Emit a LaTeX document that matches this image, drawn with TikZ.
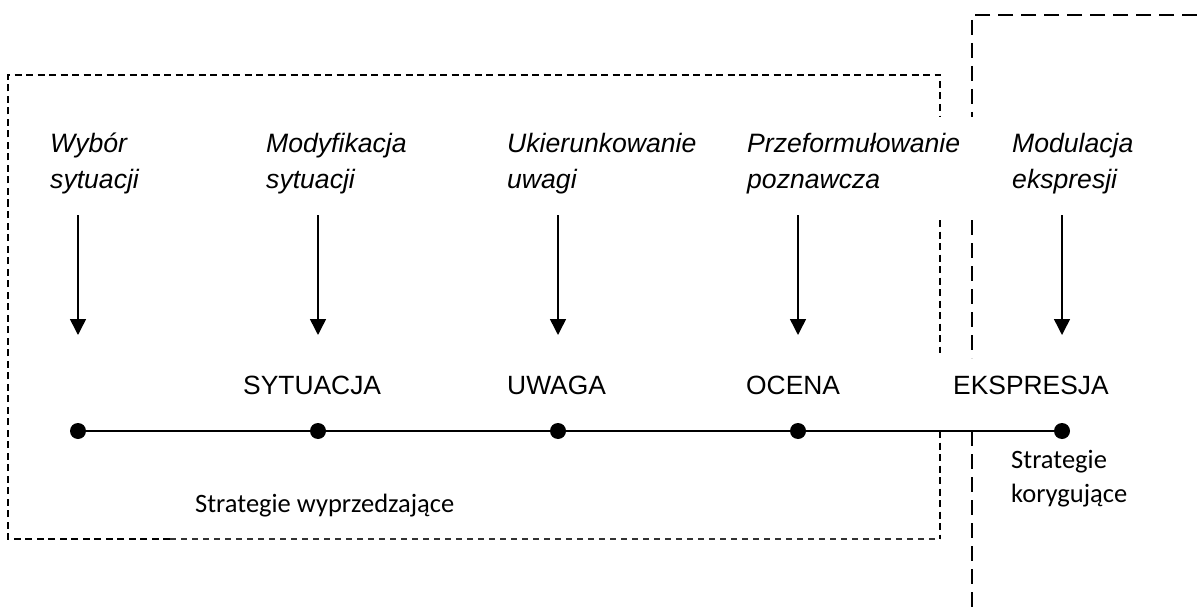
\documentclass[tikz,border=0pt]{standalone}
\usepackage{fontspec}
\setmainfont{Liberation Sans}
\newfontfamily\calibri{Carlito}
\usetikzlibrary{arrows.meta}
\begin{document}
\begin{tikzpicture}[x=1pt,y=-1pt,
  lbl/.style={inner sep=0pt,anchor=base west,font=\fontsize{26.6}{30}\selectfont\itshape},
  cat/.style={inner sep=0pt,anchor=base west,font=\fontsize{26.4}{30}\selectfont},
  strat/.style={inner sep=0pt,anchor=base west,font=\calibri\fontsize{26.5}{30}\selectfont},
  dotnode/.style={circle,fill=black,inner sep=0pt,minimum size=16pt},
  arr/.style={line width=1.5pt,-{Triangle[width=16pt,length=16pt]}},
  leftbox/.style={line width=1.4pt,dash pattern=on 7pt off 4.5pt},
  leftboxthin/.style={line width=1.1pt,dash pattern=on 6pt off 5pt,black!80},
  rightbox/.style={line width=1.4pt,dash pattern=on 15pt off 8pt}]
\useasboundingbox (0,0) rectangle (1197,607);

% left dashed box
\draw[leftbox] (170,539) -- (8,539) -- (8,75) -- (940,75) -- (940,117);
\draw[leftboxthin] (170,539) -- (940,539);
\draw[leftbox] (940,220) -- (940,353);
\draw[leftbox] (940,431) -- (940,539);

% right dashed box (open)
\draw[rightbox] (1197,15) -- (972,15) -- (972,117);
\draw[rightbox] (972,220) -- (972,358);
\draw[rightbox] (972,431) -- (972,607);

% italic labels
\node[lbl] (w1) at (50,153) {Wybór};
\node[lbl] (w2) at (50,188) {sytuacji};
\node[lbl] (m1) at (266,153) {Modyfikacja};
\node[lbl] (m2) at (266,188) {sytuacji};
\node[lbl] (u1) at (507,153) {Ukierunkowanie};
\node[lbl] (u2) at (507,188) {uwagi};
\node[lbl] (p1) at (747,153) {Przeformułowanie};
\node[lbl] (p2) at (747,188) {poznawcza};
\node[lbl] (e1) at (1012,153) {Modulacja};
\node[lbl] (e2) at (1012,188) {ekspresji};

% categories
\node[cat] (sy) at (243,394) {SYTUACJA};
\node[cat] (uw) at (507,394) {UWAGA};
\node[cat] (oc) at (746,394) {OCENA};
\node[cat] (ek) at (953,394) {EKSPRESJA};

% arrows
\foreach \i/\x in {1/78,2/318,3/558,4/798,5/1062}{
  \coordinate (a\i) at (\x,215);
  \coordinate (b\i) at (\x,335);
  \draw[arr] (a\i) -- (b\i);
}

% timeline
\node[dotnode] (d1) at (78,431) {};
\node[dotnode] (d2) at (318,431) {};
\node[dotnode] (d3) at (558,431) {};
\node[dotnode] (d4) at (798,431) {};
\node[dotnode] (d5) at (1062,431) {};
\draw[line width=1.5pt] (d1) -- (d2) -- (d3) -- (d4) -- (d5);

% strategies
\node[strat] (s1) at (195,512) {Strategie wyprzedzające};
\node[strat] (s2) at (1011,468) {Strategie};
\node[strat] (s3) at (1011,502) {korygujące};
\end{tikzpicture}
\end{document}
